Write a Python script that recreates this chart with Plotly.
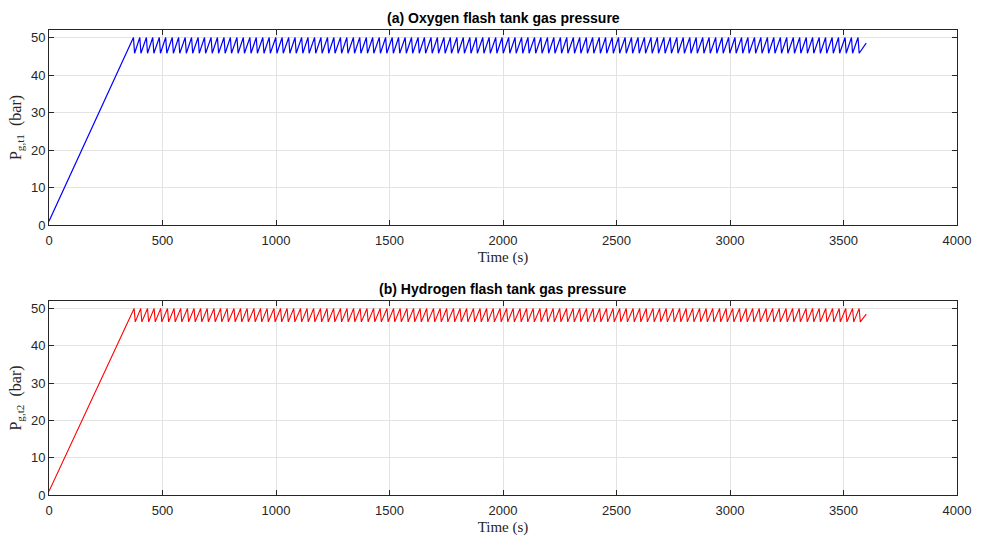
import plotly.graph_objects as go

# Pressure readings (bar) and release instants (s) for the two flash tanks
START_PRESSURE = 1.0
END_TIME = 3600
FALL_TIME = 5

o2_peak = 50.0
o2_trough = 45.8
o2_end_pressure = 48.5
o2_release_times = [
    372, 400, 429, 457, 486, 514, 543, 571, 600, 628, 657, 685, 714, 742, 771, 799,
    828, 856, 885, 913, 942, 970, 999, 1027, 1056, 1084, 1113, 1141, 1170, 1198,
    1227, 1255, 1284, 1312, 1341, 1369, 1398, 1426, 1455, 1483, 1512, 1540, 1569,
    1597, 1626, 1654, 1683, 1711, 1740, 1768, 1797, 1825, 1854, 1882, 1911, 1939,
    1968, 1996, 2025, 2053, 2082, 2110, 2139, 2167, 2196, 2224, 2253, 2281, 2310,
    2338, 2367, 2395, 2424, 2452, 2481, 2509, 2538, 2566, 2595, 2623, 2652, 2680,
    2709, 2737, 2766, 2794, 2823, 2851, 2880, 2908, 2937, 2965, 2994, 3022, 3051,
    3079, 3108, 3136, 3165, 3193, 3222, 3250, 3279, 3307, 3336, 3364, 3393, 3421,
    3450, 3478, 3507, 3535, 3564,
]

h2_peak = 50.0
h2_trough = 46.4
h2_end_pressure = 48.5
h2_release_times = [
    375, 404, 434, 463, 492, 522, 551, 580, 610, 639, 668, 697, 727, 756, 785, 815,
    844, 873, 903, 932, 961, 991, 1020, 1049, 1078, 1108, 1137, 1166, 1196, 1225,
    1254, 1284, 1313, 1342, 1371, 1401, 1430, 1459, 1489, 1518, 1547, 1577, 1606,
    1635, 1664, 1694, 1723, 1752, 1782, 1811, 1840, 1870, 1899, 1928, 1957, 1987,
    2016, 2045, 2075, 2104, 2133, 2163, 2192, 2221, 2250, 2280, 2309, 2338, 2368,
    2397, 2426, 2456, 2485, 2514, 2543, 2573, 2602, 2631, 2661, 2690, 2719, 2749,
    2778, 2807, 2836, 2866, 2895, 2924, 2954, 2983, 3012, 3042, 3071, 3100, 3129,
    3159, 3188, 3217, 3247, 3276, 3305, 3335, 3364, 3393, 3422, 3452, 3481, 3510,
    3540, 3569,
]

x_ticks = [0, 500, 1000, 1500, 2000, 2500, 3000, 3500, 4000]
y_ticks = [0, 10, 20, 30, 40, 50]


def pressure_trace(release_times, peak, trough, end_pressure):
    t = [0]
    p = [START_PRESSURE]
    for tr in release_times:
        t += [tr, tr + FALL_TIME]
        p += [peak, trough]
    t.append(END_TIME)
    p.append(end_pressure)
    return t, p


o2_t, o2_p = pressure_trace(o2_release_times, o2_peak, o2_trough, o2_end_pressure)
h2_t, h2_p = pressure_trace(h2_release_times, h2_peak, h2_trough, h2_end_pressure)

W, H = 982, 537
AX_COLOR = "#262626"
GRID = "#e3e3e3"
SANS = "Liberation Sans, Arial, sans-serif"
SERIF = "Liberation Serif, DejaVu Serif, serif"

fig = go.Figure()
fig.add_trace(go.Scatter(x=o2_t, y=o2_p, mode="lines",
                         line=dict(color="#0000ff", width=1.2),
                         xaxis="x", yaxis="y", showlegend=False))
fig.add_trace(go.Scatter(x=h2_t, y=h2_p, mode="lines",
                         line=dict(color="#ff0000", width=1.1),
                         xaxis="x2", yaxis="y2", showlegend=False))

x_dom = [49 / W, 957 / W]
top_dom = [1 - 225 / H, 1 - 30 / H]
bot_dom = [1 - 495 / H, 1 - 301 / H]

def xaxis(anchor):
    return dict(domain=x_dom, anchor=anchor, range=[0, 4000], tickvals=x_ticks,
                automargin=False, ticklabelstandoff=3,
                showline=True, linecolor=AX_COLOR, linewidth=1, mirror="allticks",
                ticks="inside", ticklen=5, tickcolor=AX_COLOR,
                showgrid=True, gridcolor=GRID, gridwidth=1, zeroline=False,
                tickfont=dict(family=SANS, size=13, color=AX_COLOR),
                title=dict(text="Time (s)", standoff=4,
                           font=dict(family=SERIF, size=15, color=AX_COLOR)))

def yaxis(anchor, dom, label):
    return dict(domain=dom, anchor=anchor, range=[0, 52], tickvals=y_ticks,
                automargin=False,
                showline=True, linecolor=AX_COLOR, linewidth=1, mirror="allticks",
                ticks="inside", ticklen=5, tickcolor=AX_COLOR,
                showgrid=True, gridcolor=GRID, gridwidth=1, zeroline=False,
                tickfont=dict(family=SANS, size=13, color=AX_COLOR),
                title=dict(text=label, standoff=5,
                           font=dict(family=SERIF, size=16, color=AX_COLOR)))

fig.update_layout(
    width=W, height=H,
    margin=dict(l=0, r=0, t=0, b=0, autoexpand=False),
    paper_bgcolor="white", plot_bgcolor="white",
    xaxis=xaxis("y"),
    yaxis=yaxis("x", top_dom, "P<sub>g,t1</sub>  (bar)"),
    xaxis2=xaxis("y2"),
    yaxis2=yaxis("x2", bot_dom, "P<sub>g,t2</sub>  (bar)"),
    annotations=[
        dict(text="<b>(a) Oxygen flash tank gas pressure</b>", x=(x_dom[0] + x_dom[1]) / 2,
             y=1 - 18 / H, xref="paper", yref="paper", yanchor="middle", showarrow=False,
             font=dict(family=SANS, size=14, color="black")),
        dict(text="<b>(b) Hydrogen flash tank gas pressure</b>", x=(x_dom[0] + x_dom[1]) / 2,
             y=1 - 289 / H, xref="paper", yref="paper", yanchor="middle", showarrow=False,
             font=dict(family=SANS, size=14, color="black")),
    ],
)

fig.write_html("out.html")
